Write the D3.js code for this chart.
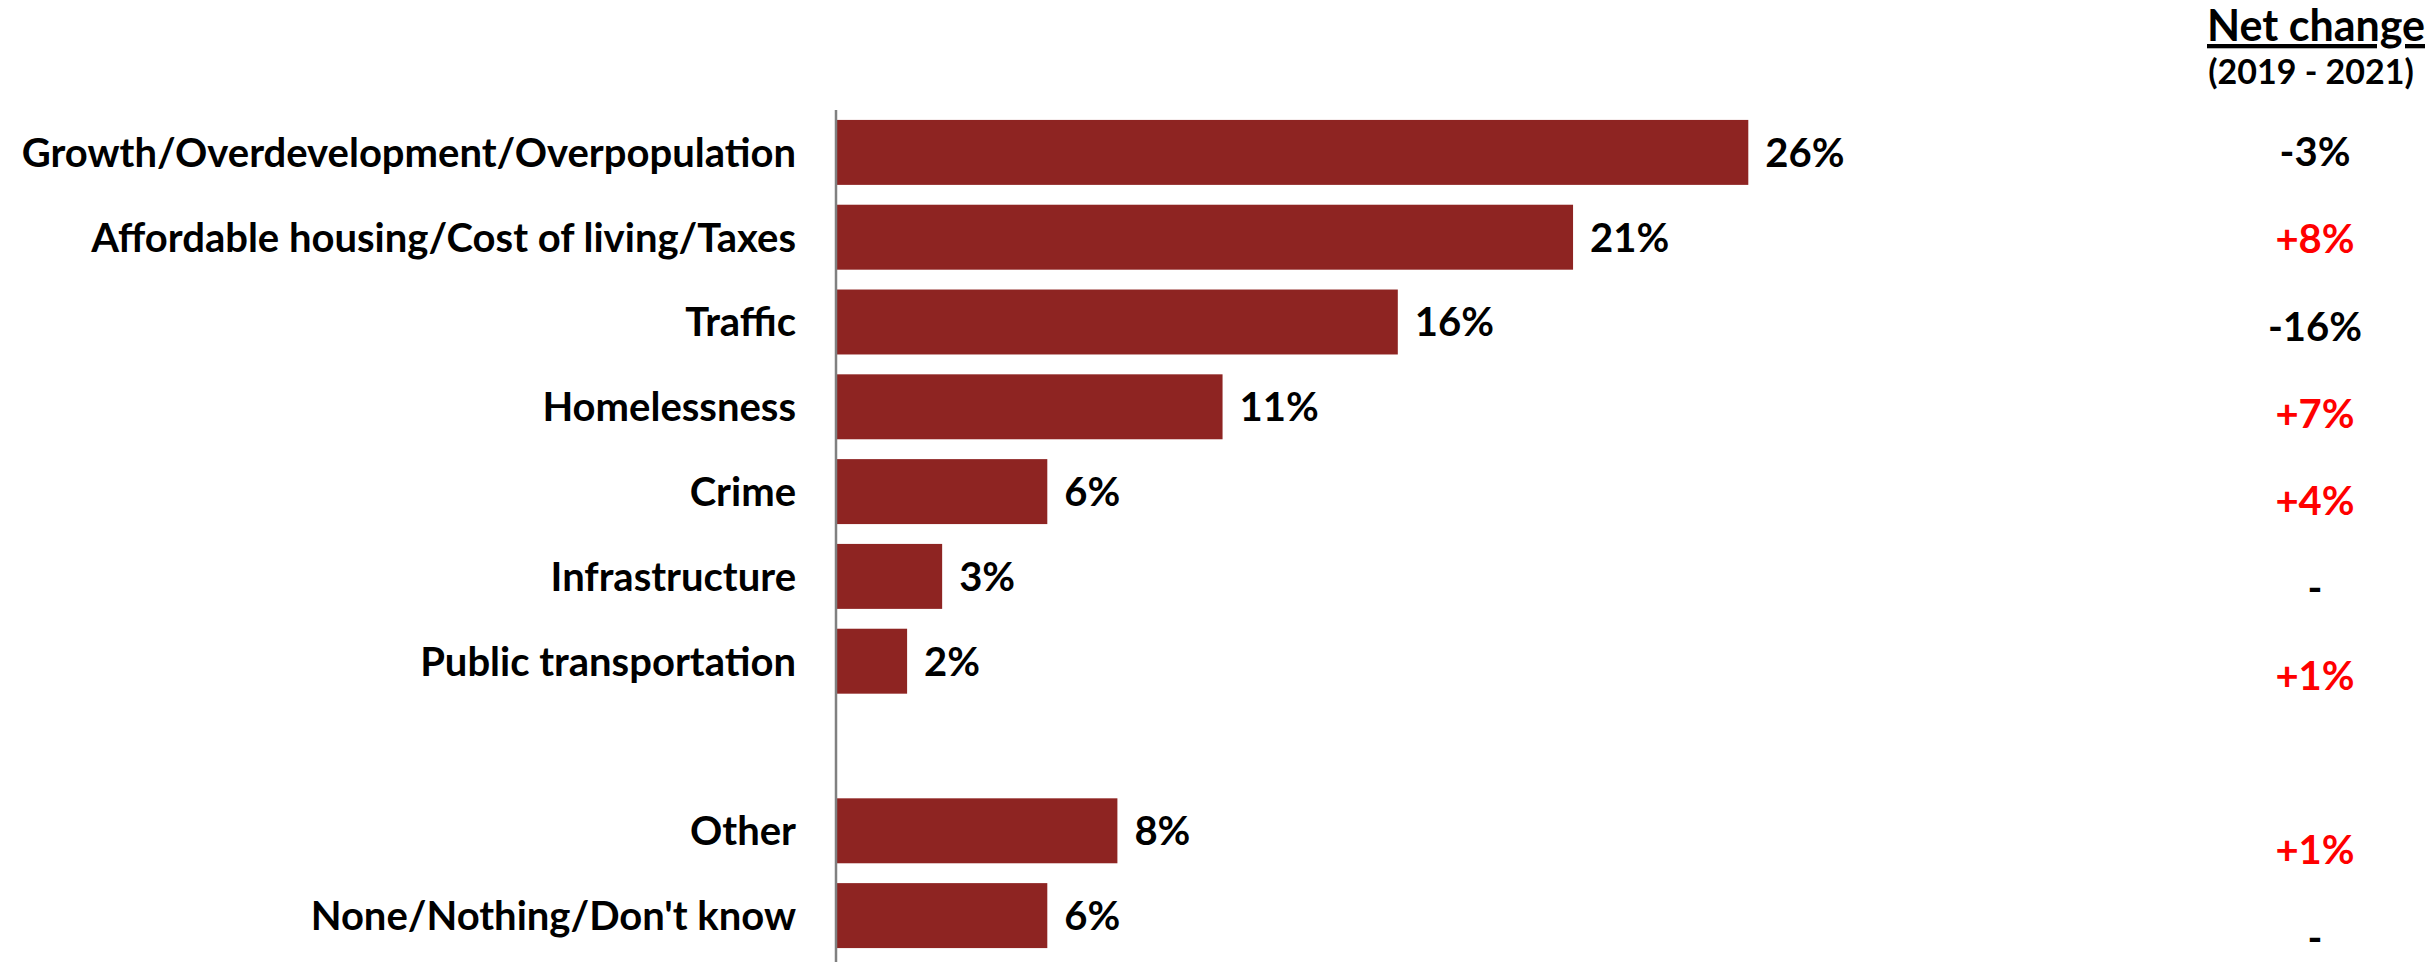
<!DOCTYPE html>
<html>
<head>
<meta charset="utf-8">
<script src="https://cdn.jsdelivr.net/npm/d3@7"></script>
<style>
  html, body { margin: 0; padding: 0; background: #fff; }
  svg text { font-family: Lato, "Open Sans", sans-serif; font-weight: 700; }
</style>
</head>
<body>
<svg id="chart" width="2432" height="962"></svg>
<script>
// Most important local issue, share of responses (%)
const categories = [
  "Growth/Overdevelopment/Overpopulation",
  "Affordable housing/Cost of living/Taxes",
  "Traffic",
  "Homelessness",
  "Crime",
  "Infrastructure",
  "Public transportation",
  "Other",
  "None/Nothing/Don't know"
];
const values = [26, 21, 16, 11, 6, 3, 2, 8, 6];
// Net change 2019 - 2021 in percentage points (null = no change shown as "-")
const netChange = [-3, 8, -16, 7, 4, null, 1, 1, null];
const netTitle = "Net change";
const netSubtitle = "(2019 - 2021)";

// A blank row separates the named issues from Other / None
const GAP = "__gap__";
const rows = [...categories.slice(0, 7), GAP, ...categories.slice(7)];

const W = 2432, H = 962;
const barColor = "#8E2422";
const fontSize = 40;

const svg = d3.select("#chart");

const x = d3.scaleLinear().domain([0, 30]).range([837, 837 + 30 * 35.05]);
const y = d3.scaleBand().domain(rows).range([110, 958]).paddingInner(0.234).paddingOuter(0.117);
const yNet = d3.scaleBand().domain(rows).range([107.85, 980.85]);

const data = categories.map((c, i) => ({ cat: c, value: values[i], net: netChange[i] }));

// Category labels via a left axis (no ticks, no domain line)
const axis = d3.axisLeft(y).tickValues(categories).tickSize(0).tickPadding(41);
const gAxis = svg.append("g").attr("transform", `translate(${x(0)},0)`).call(axis);
gAxis.select(".domain").remove();
gAxis.selectAll("text")
  .attr("fill", "#000")
  .attr("font-size", fontSize)
  .attr("dy", "0.36em")
  .style("font-family", "Lato, 'Open Sans', sans-serif")
  .style("font-weight", 700);

// Bars
svg.append("g").selectAll("rect").data(data).join("rect")
  .attr("x", x(0))
  .attr("y", d => y(d.cat))
  .attr("width", d => x(d.value) - x(0))
  .attr("height", y.bandwidth())
  .attr("fill", barColor);

// Vertical baseline
svg.append("line")
  .attr("x1", x(0) - 1).attr("x2", x(0) - 1)
  .attr("y1", y.range()[0]).attr("y2", H)
  .attr("stroke", "#808080").attr("stroke-width", 2.5);

// Value labels
svg.append("g").selectAll("text").data(data).join("text")
  .attr("x", d => x(d.value) + 17)
  .attr("y", d => y(d.cat) + y.bandwidth() / 2)
  .attr("dy", "0.36em")
  .attr("font-size", fontSize)
  .attr("fill", "#000")
  .text(d => d.value + "%");

// Net change column
const netX = 2315;
const fmtNet = v => v == null ? "-" : (v > 0 ? "+" + v + "%" : "-" + Math.abs(v) + "%");
svg.append("g").selectAll("text").data(data).join("text")
  .attr("x", netX)
  .attr("y", d => yNet(d.cat) + yNet.bandwidth() / 2)
  .attr("dy", "0.36em")
  .attr("text-anchor", "middle")
  .attr("font-size", fontSize)
  .attr("fill", d => d.net != null && d.net > 0 ? "#FF0000" : "#000")
  .text(d => fmtNet(d.net));

svg.append("text")
  .attr("x", 2316).attr("y", 41)
  .attr("text-anchor", "middle")
  .attr("font-size", 43)
  .attr("fill", "#000")
  .attr("text-decoration", "underline")
  .text(netTitle);

svg.append("text")
  .attr("x", 2311).attr("y", 84)
  .attr("text-anchor", "middle")
  .attr("font-size", 34)
  .attr("fill", "#000")
  .text(netSubtitle);
</script>
</body>
</html>
